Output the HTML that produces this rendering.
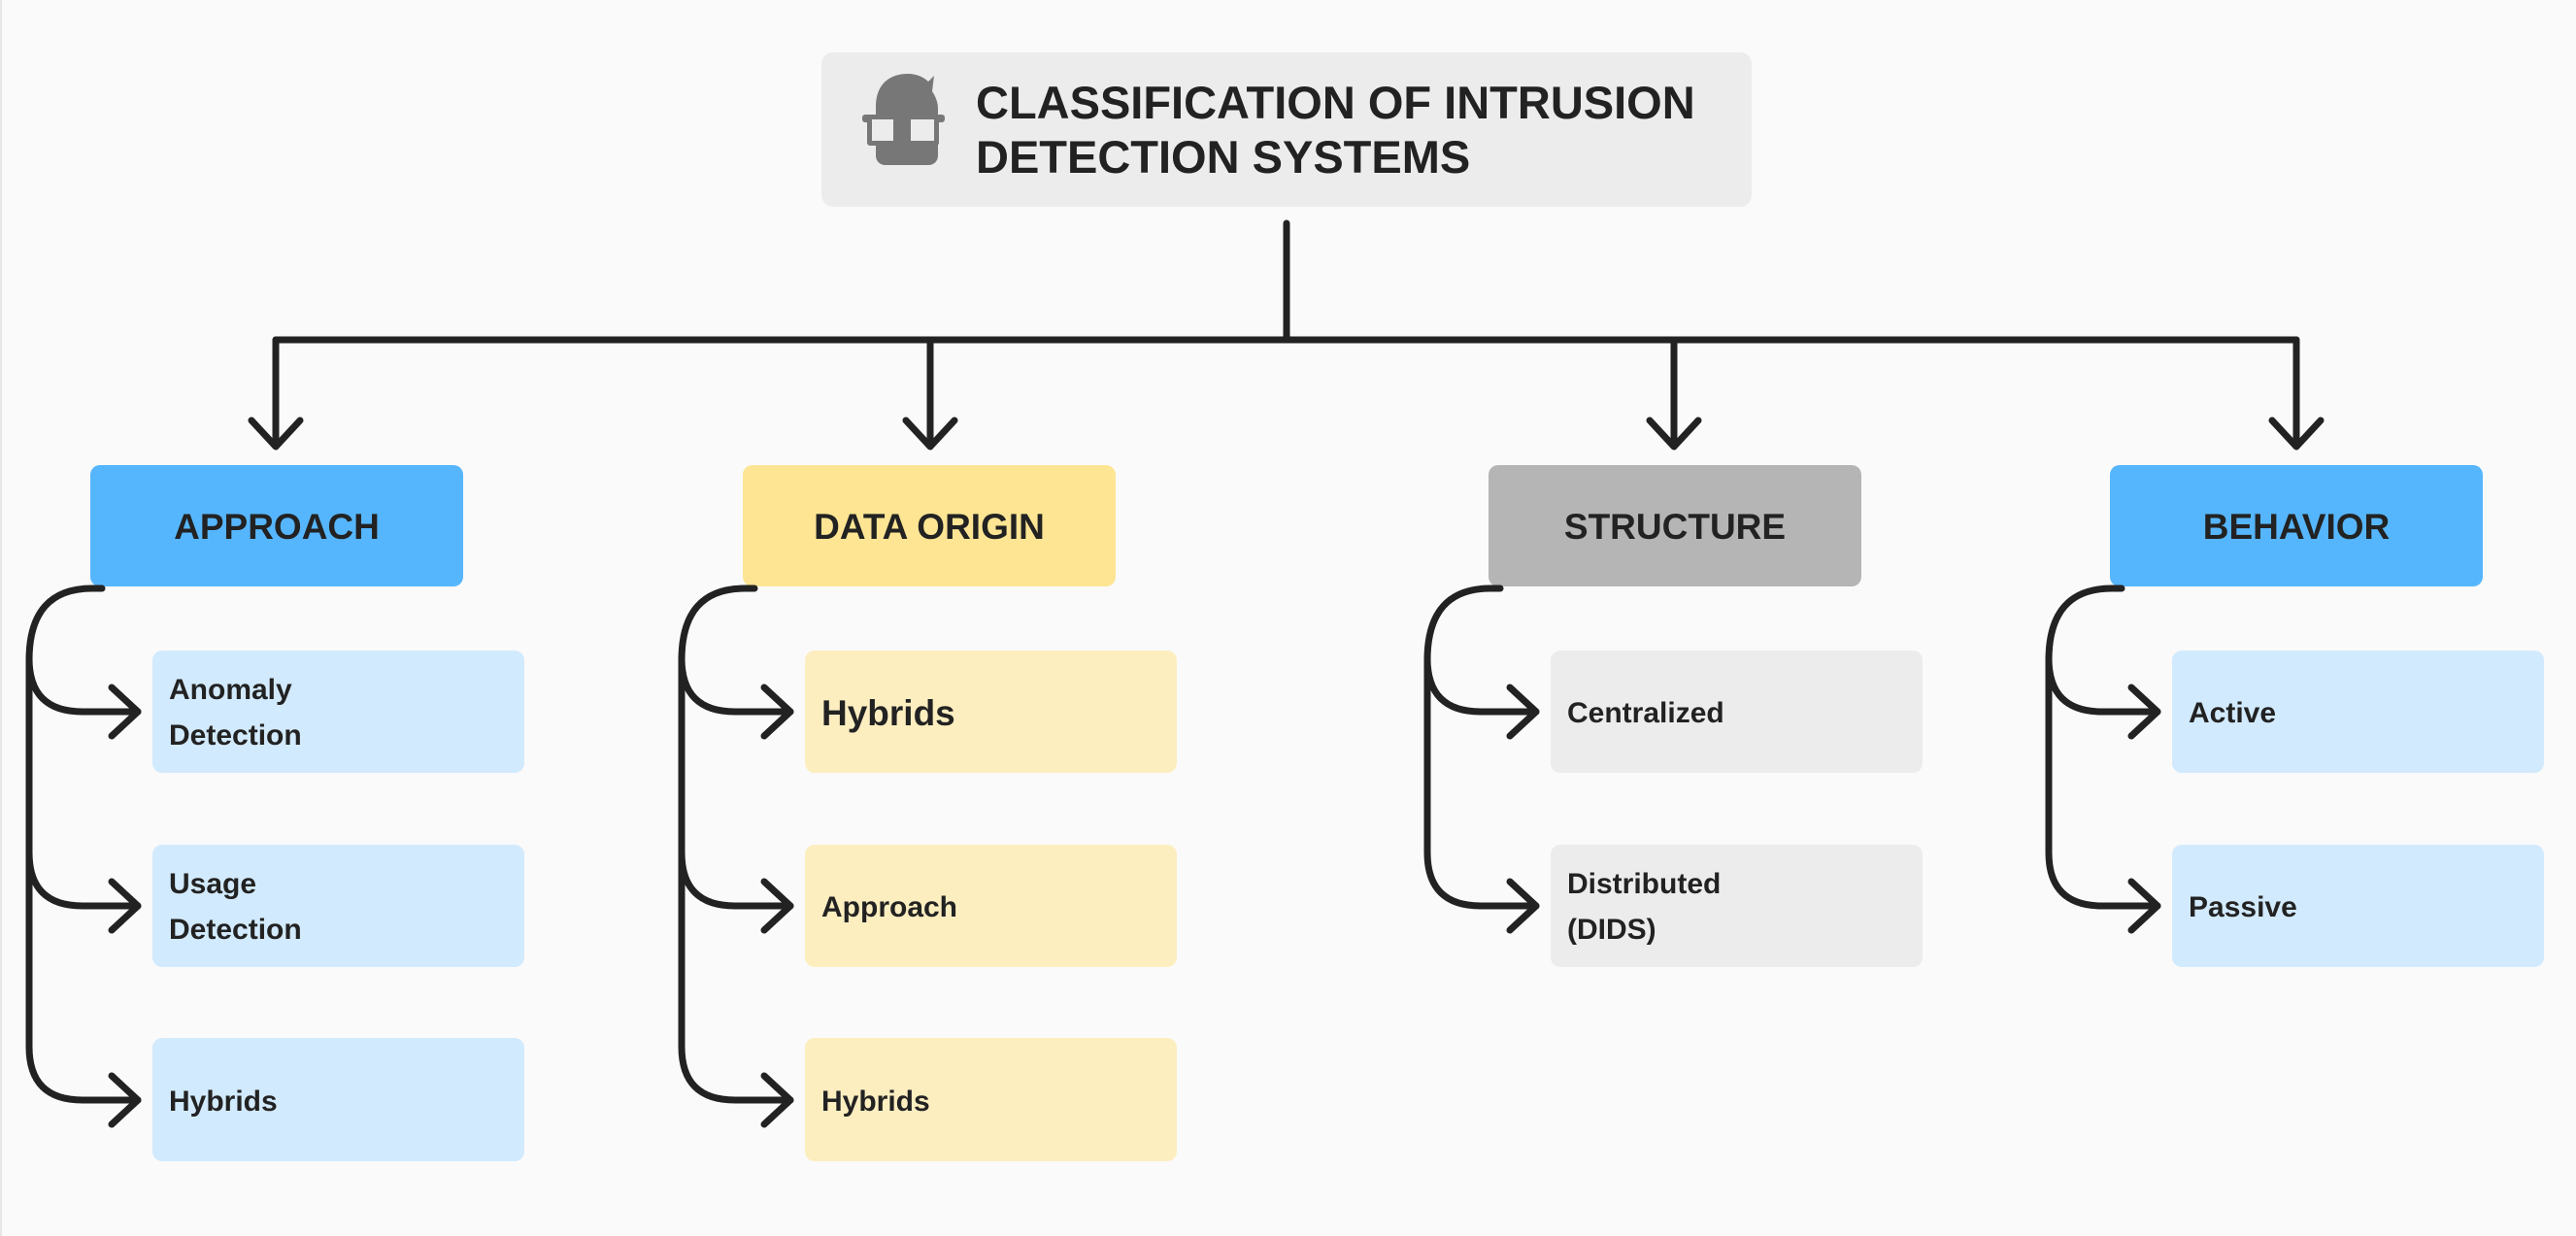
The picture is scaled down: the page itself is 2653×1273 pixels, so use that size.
<!DOCTYPE html>
<html><head><meta charset="utf-8"><style>
html,body{margin:0;padding:0;background:#fafafa;}
svg{display:block;}
text{font-family:"Liberation Sans",sans-serif;fill:#222;}
</style></head><body>
<svg width="2653" height="1273" viewBox="0 0 2653 1273" xmlns="http://www.w3.org/2000/svg">
<rect x="0" y="0" width="2653" height="1273" fill="#fafafa"/>
<line x1="1" y1="0" x2="1" y2="1273" stroke="#e6e6e6" stroke-width="2"/>
<!-- title -->
<rect x="846" y="54" width="958" height="159" rx="12" fill="#ececec"/>
<g fill="#777">
<path d="M902,110 C902,85 918,76 935,76 C945,76 952,80 956,84 L962,78 L960,94 C964,100 966,106 966,112 L966,160 C966,166 962,170 956,170 L912,170 C906,170 902,166 902,160 Z"/>
<rect x="888" y="118" width="85" height="8" rx="3"/>
</g>
<rect x="893" y="118" width="32" height="32" rx="3" fill="#777"/>
<rect x="933" y="118" width="34" height="32" rx="3" fill="#777"/>
<rect x="898" y="123" width="22" height="22" fill="#ececec"/>
<rect x="938" y="123" width="24" height="22" fill="#ececec"/>
<text x="1005" y="122" font-size="47" font-weight="bold">CLASSIFICATION OF INTRUSION</text>
<text x="1005" y="178" font-size="47" font-weight="bold">DETECTION SYSTEMS</text>
<!-- trunk -->
<g stroke="#222" stroke-width="7" fill="none" stroke-linecap="round" stroke-linejoin="round">
<path d="M1325,230 L1325,350"/>
<path d="M284,350 L2365,350"/>
<path d="M284,350 L284,458 M259,433 L284,460 L309,433"/>
<path d="M958,350 L958,458 M933,433 L958,460 L983,433"/>
<path d="M1724,350 L1724,458 M1699,433 L1724,460 L1749,433"/>
<path d="M2365,350 L2365,458 M2340,433 L2365,460 L2390,433"/>
</g>
<!-- categories -->
<rect x="93" y="479" width="384" height="125" rx="10" fill="#56b6fd"/>
<rect x="765" y="479" width="384" height="125" rx="10" fill="#fde593"/>
<rect x="1533" y="479" width="384" height="125" rx="10" fill="#b5b5b5"/>
<rect x="2173" y="479" width="384" height="125" rx="10" fill="#56b6fd"/>
<g font-size="37" font-weight="bold" text-anchor="middle">
<text x="285" y="555">APPROACH</text>
<text x="957" y="555">DATA ORIGIN</text>
<text x="1725" y="555">STRUCTURE</text>
<text x="2365" y="555">BEHAVIOR</text>
</g>
<!-- children -->
<g fill="#d2eafd">
<rect x="157" y="670" width="383" height="126" rx="10"/>
<rect x="157" y="870" width="383" height="126" rx="10"/>
<rect x="157" y="1069" width="383" height="127" rx="10"/>
<rect x="2237" y="670" width="383" height="126" rx="10"/>
<rect x="2237" y="870" width="383" height="126" rx="10"/>
</g>
<g fill="#fdeec0">
<rect x="829" y="670" width="383" height="126" rx="10"/>
<rect x="829" y="870" width="383" height="126" rx="10"/>
<rect x="829" y="1069" width="383" height="127" rx="10"/>
</g>
<g fill="#ececec">
<rect x="1597" y="670" width="383" height="126" rx="10"/>
<rect x="1597" y="870" width="383" height="126" rx="10"/>
</g>
<g font-size="30" font-weight="bold">
<text x="174" y="720">Anomaly</text>
<text x="174" y="767">Detection</text>
<text x="174" y="920">Usage</text>
<text x="174" y="967">Detection</text>
<text x="174" y="1144">Hybrids</text>
<text x="846" y="747" font-size="37">Hybrids</text>
<text x="846" y="944">Approach</text>
<text x="846" y="1144">Hybrids</text>
<text x="1614" y="744">Centralized</text>
<text x="1614" y="920">Distributed</text>
<text x="1614" y="967">(DIDS)</text>
<text x="2254" y="744">Active</text>
<text x="2254" y="944">Passive</text>
</g>
<!-- brackets -->
<g stroke="#222" stroke-width="7" fill="none" stroke-linecap="round" stroke-linejoin="round">
<path d="M105,606 L95,606 Q30,606 30,680 L30,1078 Q30,1133 85,1133 L142,1133"/>
<path d="M30,678 Q30,733 85,733 L142,733"/>
<path d="M30,878 Q30,933 85,933 L142,933"/>
<path d="M115,708 L142,733 L115,758 M115,908 L142,933 L115,958 M115,1108 L142,1133 L115,1158"/>
<path d="M777,606 L767,606 Q702,606 702,680 L702,1078 Q702,1133 757,1133 L814,1133"/>
<path d="M702,678 Q702,733 757,733 L814,733"/>
<path d="M702,878 Q702,933 757,933 L814,933"/>
<path d="M787,708 L814,733 L787,758 M787,908 L814,933 L787,958 M787,1108 L814,1133 L787,1158"/>
<path d="M1545,606 L1535,606 Q1470,606 1470,680 L1470,878 Q1470,933 1525,933 L1582,933"/>
<path d="M1470,678 Q1470,733 1525,733 L1582,733"/>
<path d="M1555,708 L1582,733 L1555,758 M1555,908 L1582,933 L1555,958"/>
<path d="M2185,606 L2175,606 Q2110,606 2110,680 L2110,878 Q2110,933 2165,933 L2222,933"/>
<path d="M2110,678 Q2110,733 2165,733 L2222,733"/>
<path d="M2195,708 L2222,733 L2195,758 M2195,908 L2222,933 L2195,958"/>
</g>
</svg>
</body></html>
